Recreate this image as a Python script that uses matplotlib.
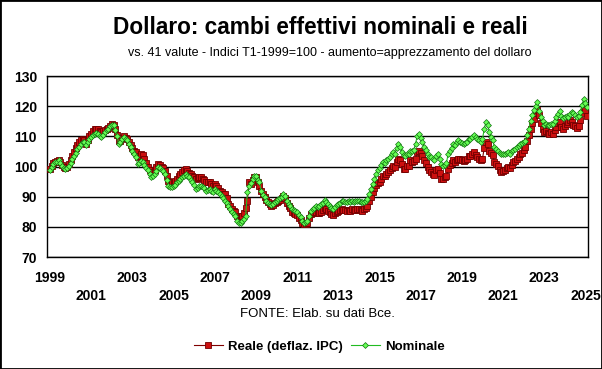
import matplotlib
matplotlib.use("Agg")
import matplotlib.pyplot as plt
from matplotlib.patches import Rectangle
import numpy as np

plt.rcParams['font.family'] = ['Liberation Sans', 'DejaVu Sans']

# indici mensili, gen 1999 - feb 2025
nominale = [
    98.7, 99.8, 100.8, 101.4, 101.6, 102.0, 101.2, 100.3, 99.5, 99.2, 99.4, 100.2,
    101.3, 102.6, 103.5, 104.5, 105.9, 106.5, 107.5, 108.1, 108.0, 107.0, 108.0, 109.0,
    109.8, 110.3, 110.9, 111.2, 110.8, 110.0, 109.8, 110.6, 111.4, 112.0, 112.6, 113.3,
    113.9, 113.6, 112.0, 110.0, 107.6, 108.0, 109.0, 109.8, 109.0, 108.7, 107.5, 106.4,
    105.3, 104.0, 103.1, 100.9, 101.0, 101.8, 101.5, 100.5, 99.5, 98.7, 97.5, 96.4,
    97.0, 97.6, 98.5, 99.8, 99.5, 98.7, 98.5, 97.5, 95.5, 93.5, 93.1, 93.2,
    93.5, 94.0, 94.8, 95.3, 96.0, 96.4, 97.0, 97.6, 97.0, 96.5, 95.5, 94.8,
    94.0, 92.6, 93.0, 93.5, 93.7, 93.1, 93.0, 92.0, 92.3, 92.6, 92.0, 91.5,
    92.6, 92.0, 91.4, 90.9, 90.3, 89.5, 88.7, 88.0, 87.0, 86.0, 84.8, 84.2,
    83.5, 82.0, 81.4, 81.4, 81.8, 82.5, 83.7, 91.4, 93.7, 94.5, 96.0, 97.0,
    97.0, 95.5, 94.8, 92.0, 90.5, 89.8, 88.7, 88.0, 87.6, 87.3, 87.6, 88.2,
    88.7, 89.2, 89.5, 90.0, 90.9, 90.3, 88.7, 87.6, 87.0, 85.9, 85.6, 85.3,
    84.8, 83.8, 83.1, 82.0, 81.4, 81.6, 82.0, 83.5, 85.3, 86.0, 86.4, 86.8,
    86.5, 86.8, 87.6, 88.0, 88.9, 88.3, 87.6, 87.0, 86.4, 86.0, 86.6, 87.2,
    87.6, 88.0, 88.7, 88.5, 88.4, 88.2, 88.6, 88.2, 88.7, 88.3, 88.6, 88.7,
    88.5, 88.3, 88.2, 88.4, 88.7, 89.3, 90.9, 92.5, 94.2, 95.8, 97.5, 98.7,
    99.5, 100.5, 101.4, 101.2, 102.0, 102.5, 103.1, 104.0, 104.8, 104.3, 106.2, 107.6,
    106.5, 104.8, 103.7, 103.4, 104.2, 104.0, 105.3, 105.0, 105.6, 107.6, 110.2, 110.9,
    109.5, 108.2, 106.6, 105.5, 104.2, 103.3, 103.1, 102.5, 102.0, 103.6, 104.2, 102.5,
    100.9, 100.3, 100.5, 101.2, 104.2, 105.3, 106.0, 107.6, 107.0, 108.0, 108.7, 108.2,
    107.8, 107.5, 107.8, 108.1, 109.0, 109.2, 109.8, 110.3, 109.8, 109.0, 108.7, 108.1,
    109.0, 112.5, 114.8, 113.8, 111.4, 109.8, 108.7, 106.4, 105.8, 105.3, 104.5, 104.2,
    104.2, 104.0, 104.5, 104.8, 104.0, 105.3, 105.5, 105.8, 106.4, 106.8, 107.6, 107.8,
    108.0, 108.5, 110.5, 112.5, 115.0, 117.0, 118.7, 120.0, 121.5, 118.5, 116.4, 115.0,
    113.7, 114.2, 113.8, 113.7, 114.0, 114.2, 115.0, 116.4, 117.5, 118.3, 116.8, 116.0,
    116.4, 116.8, 116.4, 117.5, 118.1, 117.6, 117.0, 116.4, 116.8, 118.1, 120.5, 122.3,
    121.0, 119.8,
]

reale = [
    99.3, 100.3, 101.1, 101.6, 101.8, 102.2, 101.5, 100.6, 99.9, 99.6, 99.9, 100.8,
    102.0, 103.4, 104.8, 106.0, 107.0, 108.0, 108.7, 109.2, 108.8, 107.6, 108.8, 110.0,
    110.9, 111.8, 112.4, 112.6, 112.3, 111.8, 111.5, 111.8, 112.0, 112.4, 112.9, 113.5,
    114.0, 113.8, 112.4, 110.6, 108.3, 108.6, 109.5, 110.2, 109.4, 109.0, 108.0, 107.0,
    106.2, 105.2, 104.8, 103.0, 103.5, 104.2, 103.7, 102.5, 101.0, 100.0, 99.0, 98.1,
    98.3, 99.0, 100.0, 100.9, 100.5, 99.8, 99.5, 98.6, 97.0, 95.2, 94.8, 94.8,
    94.8, 95.3, 95.9, 96.8, 97.5, 98.1, 98.8, 99.2, 98.5, 98.0, 97.4, 97.0,
    96.6, 95.9, 96.2, 96.4, 96.4, 95.9, 95.6, 94.8, 94.9, 95.0, 94.2, 93.7,
    94.2, 93.5, 92.8, 92.0, 91.4, 91.0, 90.9, 89.5, 87.6, 86.8, 85.8, 85.3,
    84.8, 83.5, 82.6, 83.2, 83.7, 84.5, 86.4, 88.7, 94.8, 94.2, 95.5, 96.4,
    96.4, 95.0, 93.7, 92.0, 90.9, 90.0, 89.0, 88.2, 87.6, 87.0, 87.2, 87.8,
    88.2, 88.6, 88.9, 89.4, 90.3, 89.6, 88.0, 86.8, 86.2, 85.0, 84.6, 84.2,
    83.8, 82.8, 82.4, 81.4, 80.9, 81.0, 81.4, 82.8, 84.2, 84.5, 84.8, 84.8,
    84.6, 84.6, 84.8, 85.5, 86.4, 85.8, 85.3, 84.8, 84.2, 84.0, 84.6, 85.0,
    85.3, 85.6, 85.9, 85.6, 85.5, 85.3, 85.7, 85.4, 85.9, 85.5, 85.7, 85.9,
    85.8, 85.5, 85.3, 85.8, 86.4, 87.0, 88.7, 90.0, 91.4, 92.8, 93.8, 94.6,
    95.0, 95.9, 97.0, 96.8, 97.6, 98.2, 98.7, 99.6, 100.3, 100.0, 101.5, 102.5,
    102.0, 100.9, 99.2, 99.3, 100.3, 100.2, 102.0, 101.5, 101.8, 102.6, 104.8, 105.3,
    104.4, 103.5, 102.0, 101.0, 99.8, 98.8, 98.1, 97.6, 97.3, 98.8, 99.2, 97.8,
    96.0, 95.9, 96.4, 96.8, 99.2, 100.5, 101.2, 102.0, 101.5, 102.2, 102.6, 102.4,
    102.0, 101.8, 102.3, 102.6, 103.4, 103.6, 104.2, 104.8, 103.7, 103.1, 102.6, 102.0,
    102.6, 106.0, 108.1, 107.5, 105.3, 104.5, 103.7, 101.4, 100.8, 100.3, 99.0, 98.1,
    98.5, 99.0, 99.6, 99.8, 99.4, 100.5, 101.4, 101.8, 102.6, 103.0, 104.2, 104.5,
    105.5, 106.4, 108.5, 110.5, 112.3, 114.5, 115.9, 117.8, 118.8, 117.0, 114.5, 112.6,
    111.4, 111.8, 111.0, 110.9, 111.4, 110.9, 112.0, 113.1, 114.3, 114.8, 113.0, 112.3,
    113.4, 114.0, 114.8, 115.3, 114.6, 113.7, 113.4, 112.8, 113.5, 115.5, 117.8, 119.6,
    118.7, 116.8,
]

anni = list(range(1999, 2026, 2))

x = 1999 + np.arange(len(nominale)) / 12.0

fig = plt.figure(figsize=(6.02, 3.69), dpi=100)
ax = fig.add_axes([0.0776, 0.3035, 0.899, 0.4905])

ax.plot(x, reale, color='#800000', lw=0.8, marker='s', ms=4.2,
        mfc='#CC1010', mec='#700000', mew=0.6, label='Reale (deflaz. IPC)', zorder=3)
ax.plot(x, nominale, color='#22BB22', lw=0.8, marker='D', ms=3.0,
        mfc='#66FF55', mec='#107010', mew=0.5, label='Nominale', zorder=4)

ax.set_xlim(1998.84, 2025.12)
ax.set_ylim(70, 130)
ax.set_yticks(range(70, 131, 10))
ax.grid(axis='y', color='black', lw=1)
ax.set_xticks(anni)
ax.set_xticklabels([str(a) if i % 2 == 0 else '\n' + str(a) for i, a in enumerate(anni)],
                   fontsize=10, fontweight='bold', linespacing=1.4)
for lab in ax.get_yticklabels():
    lab.set_fontsize(10)
    lab.set_fontweight('bold')
ax.tick_params(length=0, pad=10)
ax.tick_params(axis='y', pad=7)
for s in ax.spines.values():
    s.set_color('black')
    s.set_linewidth(1)

fig.text(0.533, 0.925, 'Dollaro: cambi effettivi nominali e reali',
         ha='center', va='center', fontsize=16.3, fontweight='bold')
fig.text(0.547, 0.856, 'vs. 41 valute - Indici T1-1999=100 - aumento=apprezzamento del dollaro',
         ha='center', va='center', fontsize=9)
fig.text(0.528, 0.149, 'FONTE: Elab. su dati Bce.', ha='center', va='center', fontsize=9.5)

fig.legend(loc='center', bbox_to_anchor=(0.53, 0.06), ncol=2, frameon=False,
           prop={'weight': 'bold', 'size': 9.5}, handlelength=2.2, columnspacing=0.6,
           handletextpad=0.4)

fig.add_artist(Rectangle((0, 0), 1, 1, transform=fig.transFigure, fill=False,
                         lw=2, ec='black'))

fig.savefig('out.png', dpi=100)
